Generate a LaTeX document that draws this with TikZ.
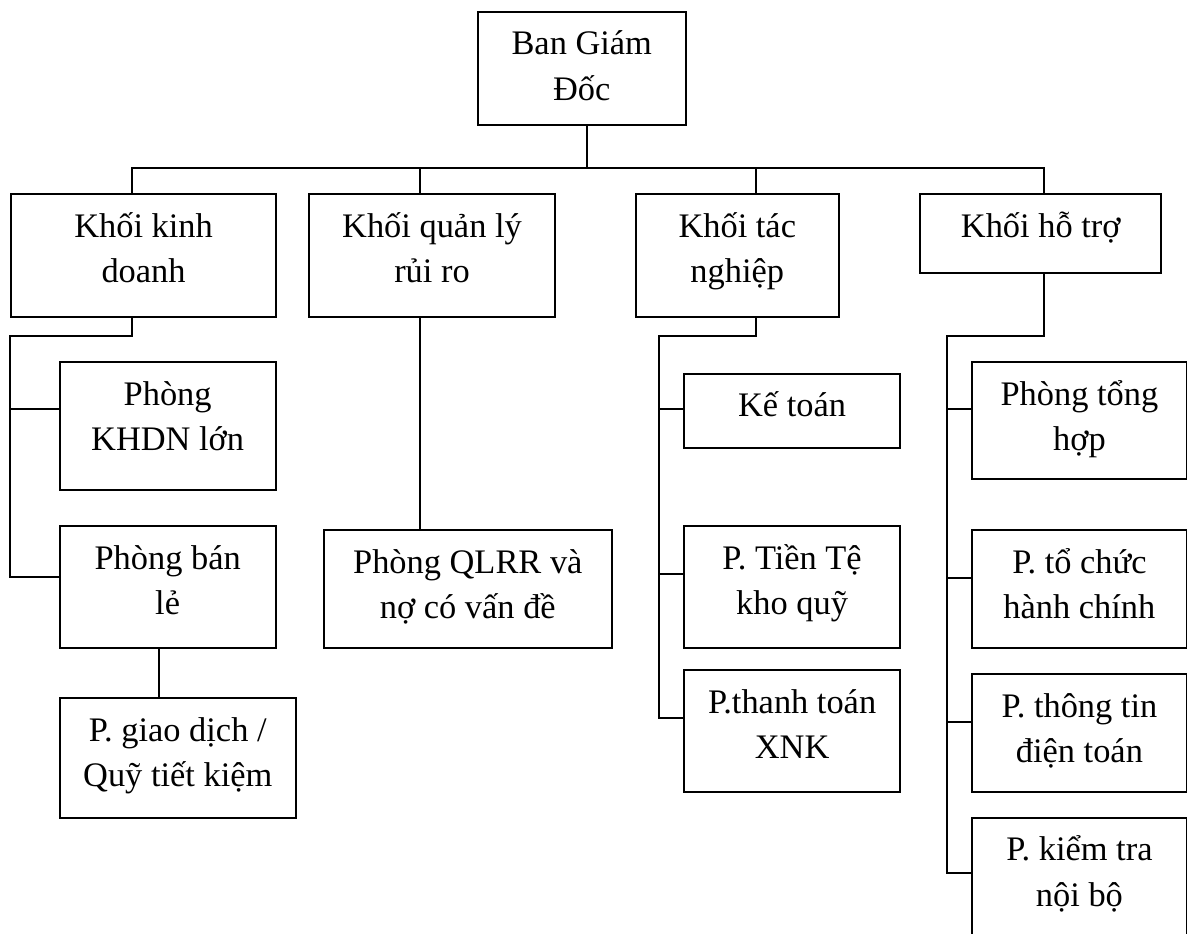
\documentclass[tikz,border=0pt]{standalone}
\usepackage{fontspec}
\setmainfont{Liberation Serif}
\newcommand{\boxstrut}{\rule{0pt}{17pt}}

\begin{document}
\begin{tikzpicture}[x=0.5pt, y=-0.5pt, line width=1pt,
    box/.style={draw, anchor=north west, inner sep=0pt},
    txt/.style={anchor=north, inner sep=0pt, align=center, font=\fontsize{17.2}{22.75}\selectfont}]
	\useasboundingbox (0,0) rectangle (1187,933);
	\clip (0,0) rectangle (1187,933);

	% Draw the boxes
	\node[box, minimum width=104.25pt, minimum height=56.9pt] (bgd) at (476.5,10.5) {};
	\node[box, minimum width=132.25pt, minimum height=61.5pt] (kd) at (10.3,193) {};
	\node[box, minimum width=123pt, minimum height=61.5pt] (qlrr) at (308,193) {};
	\node[box, minimum width=101.25pt, minimum height=61.5pt] (tn) at (635,193) {};
	\node[box, minimum width=120.3pt, minimum height=39.1pt] (ht) at (919.4,193.3) {};

	\node[box, minimum width=108.15pt, minimum height=64pt] (khdn) at (58.5,361) {};
	\node[box, minimum width=108.15pt, minimum height=61pt] (banle) at (58.5,525) {};
	\node[box, minimum width=118.25pt, minimum height=60pt] (gd) at (58.5,697) {};
	\node[box, minimum width=144.2pt, minimum height=59pt] (pqlrr) at (322.6,529) {};

	\node[box, minimum width=108.1pt, minimum height=36.9pt] (ketoan) at (683,372.7) {};
	\node[box, minimum width=108.1pt, minimum height=61pt] (tiente) at (683,525.3) {};
	\node[box, minimum width=108.1pt, minimum height=61.15pt] (tttoan) at (683,669) {};

	\node[box, minimum width=107.6pt, minimum height=58.3pt] (tonghop) at (970.8,361) {};
	\node[box, minimum width=107.6pt, minimum height=59.1pt] (tochuc) at (970.8,529) {};
	\node[box, minimum width=107.6pt, minimum height=59.15pt] (thongtin) at (970.8,673) {};
	\node[box, minimum width=107.6pt, minimum height=61pt] (kiemtra) at (970.8,816.8) {};

	% Texts in the boxes
	\node[txt] (bgdtext) at ([yshift=-4.5pt]bgd.north) {\boxstrut Ban Giám\\Đốc};
	\node[txt] (kdtext) at ([yshift=-4.5pt]kd.north) {\boxstrut Khối kinh\\doanh};
	\node[txt] (qlrrtext) at ([yshift=-4.5pt]qlrr.north) {\boxstrut Khối quản lý\\rủi ro};
	\node[txt] (tntext) at ([yshift=-4.5pt]tn.north) {\boxstrut Khối tác\\nghiệp};
	\node[txt] (httext) at ([yshift=-4.5pt]ht.north) {\boxstrut Khối hỗ trợ};

	\node[txt] (khdntext) at ([yshift=-4.5pt]khdn.north) {\boxstrut Phòng\\KHDN lớn};
	\node[txt] (banletext) at ([yshift=-4.5pt]banle.north) {\boxstrut Phòng bán\\lẻ};
	\node[txt] (gdtext) at ([yshift=-4.5pt]gd.north) {\boxstrut P. giao dịch /\\Quỹ tiết kiệm};
	\node[txt] (pqlrrtext) at ([yshift=-4.5pt]pqlrr.north) {\boxstrut Phòng QLRR và\\nợ có vấn đề};

	\node[txt] (ketoantext) at ([yshift=-4.5pt]ketoan.north) {\boxstrut Kế toán};
	\node[txt] (tientetext) at ([yshift=-4.5pt]tiente.north) {\boxstrut P. Tiền Tệ\\kho quỹ};
	\node[txt] (tttoantext) at ([yshift=-4.5pt]tttoan.north) {\boxstrut P.thanh toán\\XNK};

	\node[txt] (tonghoptext) at ([yshift=-4.5pt]tonghop.north) {\boxstrut Phòng tổng\\hợp};
	\node[txt] (tochuctext) at ([yshift=-4.5pt]tochuc.north) {\boxstrut P. tổ chức\\hành chính};
	\node[txt] (thongtintext) at ([yshift=-4.5pt]thongtin.north) {\boxstrut P. thông tin\\điện toán};
	\node[txt] (kiemtratext) at ([yshift=-4.5pt]kiemtra.north) {\boxstrut P. kiểm tra\\nội bộ};

	% Draw the lines from the top box
	\coordinate (bus) at (587,168);
	\draw (bgd.south -| bus) -- (bus);
	\draw ([xshift=-5.8pt]kd.north) |- (bus);
	\draw ([xshift=-6pt]qlrr.north) |- (bus);
	\draw ([xshift=9.4pt]tn.north) |- (bus);
	\draw ([xshift=1.65pt]ht.north) |- (bus);

	% Khoi kinh doanh
	\coordinate (kdsp) at (10.3,336);
	\draw ([xshift=-5.8pt]kd.south) |- (kdsp) |- ([yshift=5pt]banle.west);
	\draw ([yshift=8.5pt]khdn.west) -| (kdsp);
	\draw ([xshift=-4.5pt]banle.south) coordinate (bl) -- (bl |- gd.north);

	% Khoi quan ly rui ro
	\draw ([xshift=-6pt]qlrr.south) coordinate (ql) -- (ql |- pqlrr.north);

	% Khoi tac nghiep
	\coordinate (tnsp) at (659.3,336.3);
	\draw ([xshift=9.4pt]tn.south) |- (tnsp) |- ([yshift=6.8pt]tttoan.west);
	\draw ([yshift=0.7pt]ketoan.west) -| (tnsp);
	\draw ([yshift=6.5pt]tiente.west) -| (tnsp);

	% Khoi ho tro
	\coordinate (htsp) at (947.2,336.3);
	\draw ([xshift=1.65pt]ht.south) |- (htsp) |- ([yshift=2.9pt]kiemtra.west);
	\draw ([yshift=5.55pt]tonghop.west) -| (htsp);
	\draw ([yshift=5.55pt]tochuc.west) -| (htsp);
	\draw ([yshift=5.7pt]thongtin.west) -| (htsp);

\end{tikzpicture}
\end{document}
